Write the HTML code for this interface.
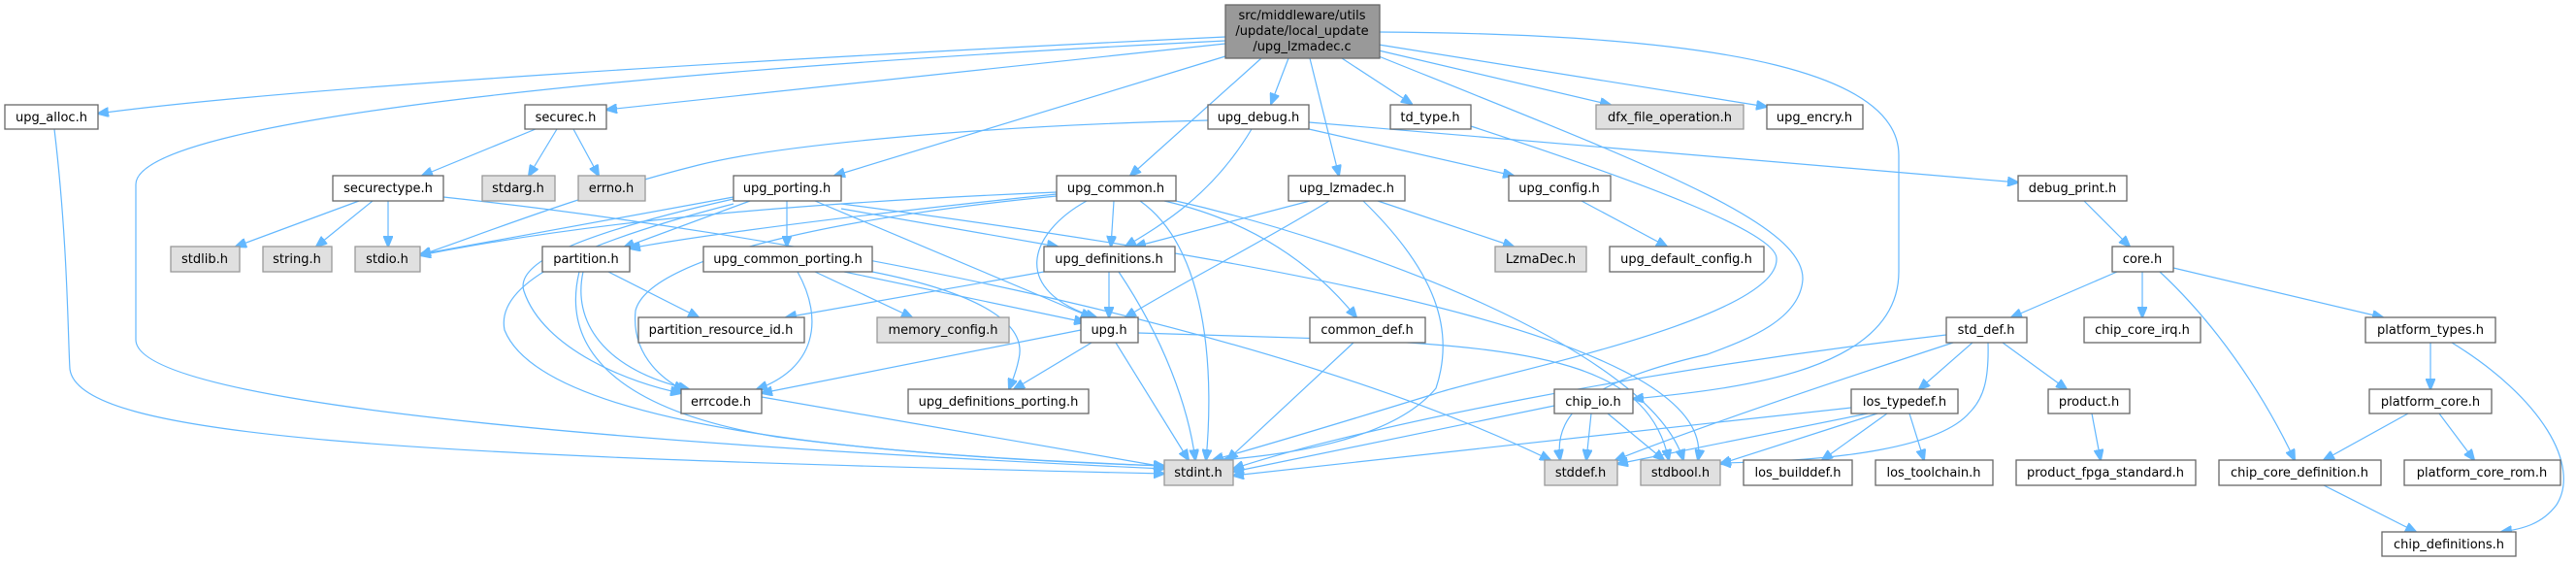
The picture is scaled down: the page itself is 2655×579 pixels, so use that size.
<!DOCTYPE html>
<html><head><meta charset="utf-8"><style>
html,body{margin:0;padding:0;background:#fff;width:2655px;height:579px;overflow:hidden}
svg{display:block}
text{font-family:"DejaVu Sans","Liberation Sans",sans-serif;font-size:13px;fill:#000}
.n{fill:#fff;stroke:#666;stroke-width:1.3}
.g{fill:#e0e0e0;stroke:#999;stroke-width:1.3}
.r{fill:#999;stroke:#666;stroke-width:1.3}
path{fill:none;stroke:#63b8ff;stroke-width:1.2}
</style></head><body>
<svg width="2655" height="579" viewBox="0 0 2655 579">
<defs><marker id="a" markerWidth="12" markerHeight="10" refX="11" refY="5" orient="auto" markerUnits="userSpaceOnUse"><path d="M0,0 L12,5 L0,10 Z" style="fill:#63b8ff;stroke:#63b8ff"/></marker></defs>
<g marker-end="url(#a)">
<path d="M1263,38 C800,60 300,90 101,117"/>
<path d="M1263,42 C700,70 140,120 140,190 L140,350 C140,420 700,460 1200,483"/>
<path d="M56,133 C70,250 70,350 72,380 C80,450 400,470 1200,488"/>
<path d="M1263,45 L625,113"/>
<path d="M1263,58 L860,181"/>
<path d="M1300,60 L1165,181"/>
<path d="M1328,60 L1310,107"/>
<path d="M1350,60 L1380,181"/>
<path d="M1383,60 L1455,107"/>
<path d="M1421,58 C1700,170 1860,230 1858,288 C1855,330 1800,350 1760,365 C1650,390 1600,420 1608,474"/>
<path d="M1516,130 C1700,190 1830,240 1831,266 C1835,330 1520,390 1478,406 C1400,430 1300,460 1250,474"/>
<path d="M1421,52 L1660,108"/>
<path d="M1421,46 L1821,110"/>
<path d="M1421,33 C1800,35 1957,80 1957,160 L1957,280 C1957,380 1800,400 1683,411"/>
<path d="M1245,124 C1000,130 800,150 720,170 C600,200 500,240 433,263"/>
<path d="M1290,133 C1250,200 1200,230 1160,254"/>
<path d="M1349,133 L1560,181"/>
<path d="M1349,126 L2080,188"/>
<path d="M552,133 L435,181"/>
<path d="M574,133 L545,181"/>
<path d="M591,133 L617,181"/>
<path d="M370,207 L243,254"/>
<path d="M384,207 L326,254"/>
<path d="M400,207 L400,254"/>
<path d="M457,203 C800,240 1300,330 1598,474"/>
<path d="M756,203 L433,262"/>
<path d="M773,207 L643,255"/>
<path d="M811,207 L811,254"/>
<path d="M867,215 L1090,254"/>
<path d="M840,207 L1125,327"/>
<path d="M756,205 C600,240 530,270 540,300 C560,360 650,395 702,405"/>
<path d="M756,210 C600,250 510,290 520,340 C560,440 900,470 1200,480"/>
<path d="M867,210 C1400,280 1770,360 1750,474"/>
<path d="M1089,198 C800,210 600,230 433,263"/>
<path d="M1089,202 C900,220 670,260 655,320 C650,370 690,395 705,402"/>
<path d="M1148,207 L1145,254"/>
<path d="M1120,207 C1060,240 1040,300 1130,327"/>
<path d="M1175,207 C1250,260 1250,400 1243,474"/>
<path d="M1200,207 C1300,230 1360,280 1398,327"/>
<path d="M1212,207 C1400,250 1700,360 1735,474"/>
<path d="M1089,200 C800,230 680,250 649,256"/>
<path d="M1350,207 L1170,254"/>
<path d="M1370,207 C1300,250 1220,290 1160,327"/>
<path d="M1420,207 L1560,254"/>
<path d="M1405,207 C1480,280 1500,340 1480,400 C1430,460 1300,470 1260,474"/>
<path d="M1630,207 L1718,254"/>
<path d="M840,280 L940,327"/>
<path d="M870,280 L1118,332"/>
<path d="M822,280 C850,330 840,380 780,401"/>
<path d="M899,280 C1000,300 1060,330 1050,370 C1047,385 1043,393 1040,401"/>
<path d="M1076,280 L810,327"/>
<path d="M1143,280 L1143,327"/>
<path d="M1153,280 C1200,350 1225,420 1232,474"/>
<path d="M627,280 L720,327"/>
<path d="M601,280 C590,330 620,380 710,401"/>
<path d="M597,280 C580,350 620,420 800,450 C950,470 1100,476 1200,480"/>
<path d="M1114,340 L785,405"/>
<path d="M1125,353 L1045,401"/>
<path d="M1150,353 L1225,474"/>
<path d="M1173,343 L1400,350 C1600,360 1700,380 1720,474"/>
<path d="M785,409 L1200,481"/>
<path d="M1395,353 L1265,474"/>
<path d="M1602,418 L1271,486"/>
<path d="M1640,426 L1635,474"/>
<path d="M1657,426 L1715,474"/>
<path d="M1908,420 L1271,490"/>
<path d="M1925,426 L1667,478"/>
<path d="M1935,426 L1773,478"/>
<path d="M1945,426 L1878,474"/>
<path d="M1968,426 L1983,474"/>
<path d="M2006,345 C1700,380 1400,440 1271,483"/>
<path d="M2013,353 C1900,390 1750,440 1665,474"/>
<path d="M2033,353 L1978,401"/>
<path d="M2049,353 C2050,390 2045,410 2030,425 C2000,460 1900,475 1773,477"/>
<path d="M2064,353 L2130,401"/>
<path d="M2148,207 L2195,254"/>
<path d="M2182,280 L2073,327"/>
<path d="M2208,280 L2208,327"/>
<path d="M2226,280 C2280,330 2330,400 2365,474"/>
<path d="M2240,276 L2456,327"/>
<path d="M2505,353 L2505,401"/>
<path d="M2527,353 C2620,410 2660,480 2635,520 C2620,540 2600,545 2578,548"/>
<path d="M2482,426 L2395,474"/>
<path d="M2514,426 L2550,474"/>
<path d="M2395,500 L2490,548"/>
<path d="M2156,426 L2165,474"/>
</g>
<g text-anchor="middle">
<rect class="r" x="1263" y="5" width="159" height="55"/>
<text x="1342" y="20">src/middleware/utils</text><text x="1342" y="36">/update/local_update</text><text x="1342" y="52">/upg_lzmadec.c</text>
<rect class="n" x="5" y="108" width="96" height="25"/><text x="53" y="125">upg_alloc.h</text>
<rect class="n" x="541" y="108" width="84" height="25"/><text x="583" y="125">securec.h</text>
<rect class="n" x="1245" y="108" width="104" height="25"/><text x="1297" y="125">upg_debug.h</text>
<rect class="n" x="1433" y="108" width="83" height="25"/><text x="1474" y="125">td_type.h</text>
<rect class="g" x="1645" y="108" width="152" height="25"/><text x="1721" y="125">dfx_file_operation.h</text>
<rect class="n" x="1821" y="108" width="99" height="25"/><text x="1870" y="125">upg_encry.h</text>
<rect class="n" x="343" y="181" width="114" height="26"/><text x="400" y="198">securectype.h</text>
<rect class="g" x="497" y="181" width="75" height="26"/><text x="534" y="198">stdarg.h</text>
<rect class="g" x="596" y="181" width="69" height="26"/><text x="630" y="198">errno.h</text>
<rect class="n" x="756" y="181" width="111" height="26"/><text x="811" y="198">upg_porting.h</text>
<rect class="n" x="1089" y="181" width="123" height="26"/><text x="1150" y="198">upg_common.h</text>
<rect class="n" x="1328" y="181" width="120" height="26"/><text x="1388" y="198">upg_lzmadec.h</text>
<rect class="n" x="1555" y="181" width="105" height="26"/><text x="1607" y="198">upg_config.h</text>
<rect class="n" x="2080" y="181" width="112" height="26"/><text x="2136" y="198">debug_print.h</text>
<rect class="g" x="176" y="254" width="71" height="26"/><text x="211" y="271">stdlib.h</text>
<rect class="g" x="271" y="254" width="71" height="26"/><text x="306" y="271">string.h</text>
<rect class="g" x="366" y="254" width="67" height="26"/><text x="399" y="271">stdio.h</text>
<rect class="n" x="559" y="254" width="90" height="26"/><text x="604" y="271">partition.h</text>
<rect class="n" x="725" y="254" width="174" height="26"/><text x="812" y="271">upg_common_porting.h</text>
<rect class="n" x="1076" y="254" width="135" height="26"/><text x="1143" y="271">upg_definitions.h</text>
<rect class="g" x="1541" y="254" width="94" height="26"/><text x="1588" y="271">LzmaDec.h</text>
<rect class="n" x="1659" y="254" width="159" height="26"/><text x="1738" y="271">upg_default_config.h</text>
<rect class="n" x="2177" y="254" width="63" height="26"/><text x="2208" y="271">core.h</text>
<rect class="n" x="658" y="327" width="171" height="26"/><text x="743" y="344">partition_resource_id.h</text>
<rect class="g" x="904" y="327" width="136" height="26"/><text x="972" y="344">memory_config.h</text>
<rect class="n" x="1114" y="327" width="59" height="26"/><text x="1143" y="344">upg.h</text>
<rect class="n" x="1350" y="327" width="119" height="26"/><text x="1409" y="344">common_def.h</text>
<rect class="n" x="2006" y="327" width="83" height="26"/><text x="2047" y="344">std_def.h</text>
<rect class="n" x="2148" y="327" width="120" height="26"/><text x="2208" y="344">chip_core_irq.h</text>
<rect class="n" x="2438" y="327" width="134" height="26"/><text x="2505" y="344">platform_types.h</text>
<rect class="n" x="702" y="401" width="83" height="25"/><text x="743" y="418">errcode.h</text>
<rect class="n" x="936" y="401" width="186" height="25"/><text x="1029" y="418">upg_definitions_porting.h</text>
<rect class="n" x="1602" y="401" width="81" height="25"/><text x="1642" y="418">chip_io.h</text>
<rect class="n" x="1908" y="401" width="110" height="25"/><text x="1963" y="418">los_typedef.h</text>
<rect class="n" x="2111" y="401" width="84" height="25"/><text x="2153" y="418">product.h</text>
<rect class="n" x="2442" y="401" width="126" height="25"/><text x="2505" y="418">platform_core.h</text>
<rect class="g" x="1200" y="474" width="71" height="26"/><text x="1235" y="491">stdint.h</text>
<rect class="g" x="1592" y="474" width="75" height="26"/><text x="1629" y="491">stddef.h</text>
<rect class="g" x="1691" y="474" width="82" height="26"/><text x="1732" y="491">stdbool.h</text>
<rect class="n" x="1797" y="474" width="112" height="26"/><text x="1853" y="491">los_builddef.h</text>
<rect class="n" x="1933" y="474" width="121" height="26"/><text x="1993" y="491">los_toolchain.h</text>
<rect class="n" x="2078" y="474" width="185" height="26"/><text x="2170" y="491">product_fpga_standard.h</text>
<rect class="n" x="2287" y="474" width="167" height="26"/><text x="2370" y="491">chip_core_definition.h</text>
<rect class="n" x="2478" y="474" width="161" height="26"/><text x="2558" y="491">platform_core_rom.h</text>
<rect class="n" x="2455" y="548" width="138" height="25"/><text x="2524" y="565">chip_definitions.h</text>
</g>
</svg>
</body></html>
